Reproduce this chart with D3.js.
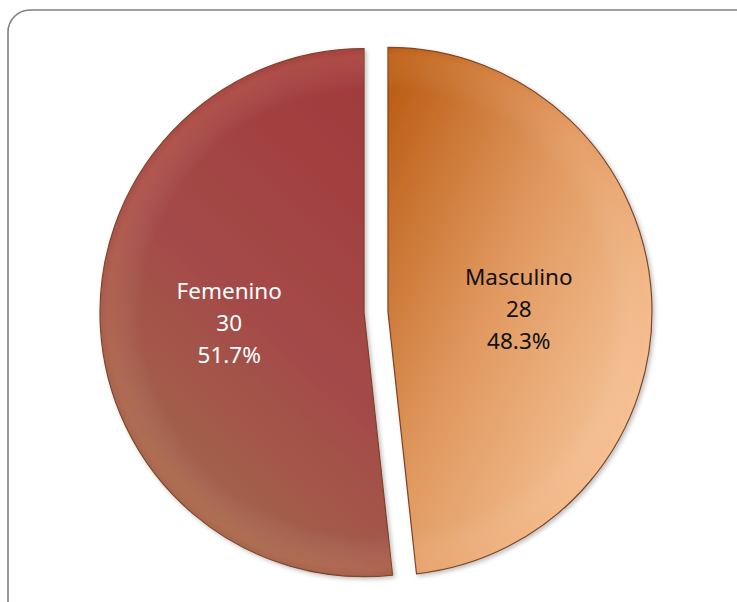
<!DOCTYPE html>
<html>
<head>
<meta charset="utf-8">
<script src="https://cdn.jsdelivr.net/npm/d3@7"></script>
<style>
  body { margin: 0; background: #fff; }
  svg { display: block; }
  .lbl { font-family: "Noto Sans", sans-serif; font-size: 22.5px; }
</style>
</head>
<body>
<svg id="chart" width="737" height="602"></svg>
<script>
// data
const categories = ["Masculino", "Femenino"];
const values = [28, 30];
const textColors = ["#111111", "#ffffff"];

const width = 737, height = 602;
const cx = 376, cy = 312, radius = 264, explode = 12;

const svg = d3.select("#chart");
const defs = svg.append("defs");

// frame
svg.append("rect")
  .attr("x", 8).attr("y", 10)
  .attr("width", 760).attr("height", 620)
  .attr("rx", 22).attr("ry", 22)
  .attr("fill", "none")
  .attr("stroke", "#7f7f7f")
  .attr("stroke-width", 1.6);

// gradients for the two slices
let gM = defs.append("linearGradient").attr("id", "gM")
  .attr("x1", 0).attr("y1", 0).attr("x2", 1).attr("y2", 0.9);
gM.append("stop").attr("offset", 0).attr("stop-color", "#b8580e");
gM.append("stop").attr("offset", 0.45).attr("stop-color", "#e0985f");
gM.append("stop").attr("offset", 1).attr("stop-color", "#fcd1a8");

let gF = defs.append("linearGradient").attr("id", "gF")
  .attr("x1", 0.8).attr("y1", 0).attr("x2", 0.3).attr("y2", 1);
gF.append("stop").attr("offset", 0).attr("stop-color", "#a13a3c");
gF.append("stop").attr("offset", 0.5).attr("stop-color", "#a44a48");
gF.append("stop").attr("offset", 1).attr("stop-color", "#a26c4d");

// lighter rim on the outside of each slice
let rim = defs.append("radialGradient").attr("id", "rim")
  .attr("gradientUnits", "userSpaceOnUse")
  .attr("cx", 0).attr("cy", 0).attr("r", radius);
rim.append("stop").attr("offset", 0.84).attr("stop-color", "#fff").attr("stop-opacity", 0);
rim.append("stop").attr("offset", 0.97).attr("stop-color", "#ffb080").attr("stop-opacity", 0.14);
rim.append("stop").attr("offset", 1).attr("stop-color", "#ffb080").attr("stop-opacity", 0.05);

let shadow = defs.append("filter").attr("id", "shadow")
  .attr("x", "-10%").attr("y", "-10%").attr("width", "120%").attr("height", "120%");
shadow.append("feDropShadow")
  .attr("dx", 2).attr("dy", 2).attr("stdDeviation", 2)
  .attr("flood-color", "#000").attr("flood-opacity", 0.25);

const fills = ["url(#gM)", "url(#gF)"];

let pie = d3.pie().sort(null).value(d => d);
let slices = pie(values);
let total = d3.sum(values);

let arc = d3.arc().innerRadius(0).outerRadius(radius);

let g = svg.append("g").attr("transform", "translate(" + cx + "," + cy + ")");

let slice = g.selectAll("g.slice").data(slices).enter().append("g")
  .attr("class", "slice")
  .attr("transform", function(d) {
    let a = (d.startAngle + d.endAngle) / 2;
    return "translate(" + (Math.sin(a) * explode) + "," + (-Math.cos(a) * explode) + ")";
  });

slice.append("path")
  .attr("d", arc)
  .attr("fill", (d, i) => fills[i])
  .attr("stroke", "#7a4426")
  .attr("stroke-width", 1.2)
  .attr("filter", "url(#shadow)");

slice.append("path")
  .attr("d", arc)
  .attr("fill", "url(#rim)");

// labels: name, value, percent
slice.append("text")
  .attr("class", "lbl")
  .attr("text-anchor", "middle")
  .attr("fill", (d, i) => textColors[i])
  .each(function(d, i) {
    let c = arc.centroid(d);
    let t = d3.select(this);
    let lines = [categories[i], values[i], (values[i] / total * 100).toFixed(1) + "%"];
    lines.forEach(function(s, k) {
      t.append("tspan")
        .attr("x", c[0] + (i == 0 ? -1 : -3))
        .attr("y", c[1] - 32 + k * 32 + (i == 0 ? 13 : 11))
        .text(s);
    });
  });
</script>
</body>
</html>
